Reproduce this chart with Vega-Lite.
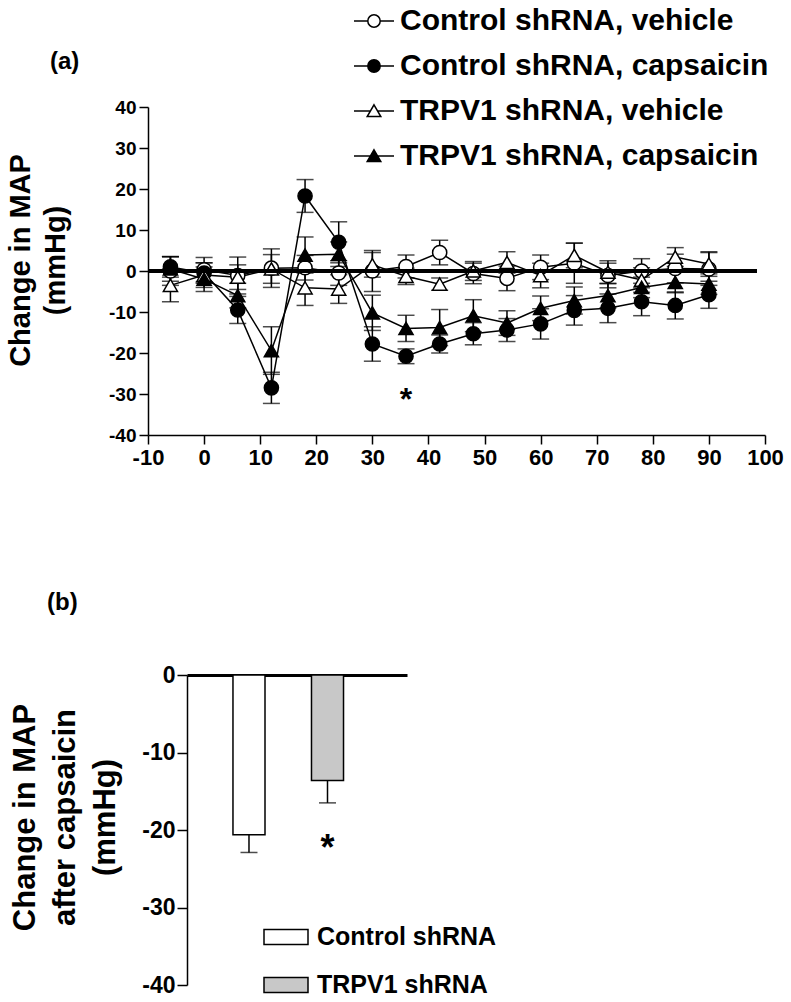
{
  "$schema": "https://vega.github.io/schema/vega-lite/v6.json",
  "background": "white",
  "padding": {"left": 6, "top": 6, "right": 5, "bottom": 5},
  "spacing": 123,
  "resolve": {"scale": {"fill": "independent", "shape": "independent", "stroke": "independent"}, "legend": {"fill": "independent", "shape": "independent", "stroke": "independent"}},
  "config": {
    "font": "Liberation Sans",
    "view": {"stroke": null},
    "axis": {
      "labelFont": "Liberation Sans", "labelFontWeight": "bold", "labelColor": "black",
      "titleFont": "Liberation Sans", "titleFontWeight": "bold", "titleColor": "black",
      "domainColor": "black", "tickColor": "black", "grid": false,
      "domainWidth": 1.5, "tickWidth": 1.5,
      "labelExpr": "replace(datum.label, '−', '-')"
    },
    "title": {"font": "Liberation Sans", "fontWeight": "bold", "color": "black", "fontSize": 24},
    "legend": {"labelFont": "Liberation Sans", "labelFontWeight": "bold", "labelColor": "black", "padding": 0}
  },
  "datasets": {
    "timecourse": [
      {"series": "Control shRNA, vehicle", "t": -6, "mean": 0, "se": 3.5},
      {"series": "Control shRNA, vehicle", "t": 0, "mean": 0.3, "se": 3},
      {"series": "Control shRNA, vehicle", "t": 6, "mean": -1.1, "se": 4.5},
      {"series": "Control shRNA, vehicle", "t": 12, "mean": 0.7, "se": 4.7},
      {"series": "Control shRNA, vehicle", "t": 18, "mean": 0.8, "se": 3},
      {"series": "Control shRNA, vehicle", "t": 24, "mean": -0.5, "se": 3},
      {"series": "Control shRNA, vehicle", "t": 30, "mean": 0, "se": 5},
      {"series": "Control shRNA, vehicle", "t": 36, "mean": 1.1, "se": 2.8},
      {"series": "Control shRNA, vehicle", "t": 42, "mean": 4.5, "se": 3},
      {"series": "Control shRNA, vehicle", "t": 48, "mean": -0.6, "se": 2.5},
      {"series": "Control shRNA, vehicle", "t": 54, "mean": -1.8, "se": 3},
      {"series": "Control shRNA, vehicle", "t": 60, "mean": 0.9, "se": 3},
      {"series": "Control shRNA, vehicle", "t": 66, "mean": 1.9, "se": 4.9},
      {"series": "Control shRNA, vehicle", "t": 72, "mean": -1.1, "se": 3},
      {"series": "Control shRNA, vehicle", "t": 78, "mean": 0, "se": 3},
      {"series": "Control shRNA, vehicle", "t": 84, "mean": 0.6, "se": 3.5},
      {"series": "Control shRNA, vehicle", "t": 90, "mean": 0.5, "se": 4},
      {"series": "Control shRNA, capsaicin", "t": -6, "mean": 1, "se": 2.5},
      {"series": "Control shRNA, capsaicin", "t": 0, "mean": -0.5, "se": 2.5},
      {"series": "Control shRNA, capsaicin", "t": 6, "mean": -9.5, "se": 3.3},
      {"series": "Control shRNA, capsaicin", "t": 12, "mean": -28.5, "se": 3.8},
      {"series": "Control shRNA, capsaicin", "t": 18, "mean": 18.3, "se": 4},
      {"series": "Control shRNA, capsaicin", "t": 24, "mean": 7, "se": 5},
      {"series": "Control shRNA, capsaicin", "t": 30, "mean": -17.8, "se": 4.2},
      {"series": "Control shRNA, capsaicin", "t": 36, "mean": -20.8, "se": 1.8},
      {"series": "Control shRNA, capsaicin", "t": 42, "mean": -17.8, "se": 2.2},
      {"series": "Control shRNA, capsaicin", "t": 48, "mean": -15.3, "se": 2.7},
      {"series": "Control shRNA, capsaicin", "t": 54, "mean": -14.4, "se": 2.8},
      {"series": "Control shRNA, capsaicin", "t": 60, "mean": -12.9, "se": 3.7},
      {"series": "Control shRNA, capsaicin", "t": 66, "mean": -9.6, "se": 3.6},
      {"series": "Control shRNA, capsaicin", "t": 72, "mean": -9.1, "se": 3.5},
      {"series": "Control shRNA, capsaicin", "t": 78, "mean": -7.5, "se": 3.4},
      {"series": "Control shRNA, capsaicin", "t": 84, "mean": -8.4, "se": 3.3},
      {"series": "Control shRNA, capsaicin", "t": 90, "mean": -5.8, "se": 3.3},
      {"series": "TRPV1 shRNA, vehicle", "t": -6, "mean": -3.5, "se": 4},
      {"series": "TRPV1 shRNA, vehicle", "t": 0, "mean": -1, "se": 3},
      {"series": "TRPV1 shRNA, vehicle", "t": 6, "mean": -1.5, "se": 3},
      {"series": "TRPV1 shRNA, vehicle", "t": 12, "mean": 0.5, "se": 3.5},
      {"series": "TRPV1 shRNA, vehicle", "t": 18, "mean": -4.1, "se": 4.3},
      {"series": "TRPV1 shRNA, vehicle", "t": 24, "mean": -4.4, "se": 3.5},
      {"series": "TRPV1 shRNA, vehicle", "t": 30, "mean": 1.5, "se": 3},
      {"series": "TRPV1 shRNA, vehicle", "t": 36, "mean": -1.3, "se": 2},
      {"series": "TRPV1 shRNA, vehicle", "t": 42, "mean": -3.2, "se": 1.5},
      {"series": "TRPV1 shRNA, vehicle", "t": 48, "mean": 0, "se": 2.3},
      {"series": "TRPV1 shRNA, vehicle", "t": 54, "mean": 2.1, "se": 2.6},
      {"series": "TRPV1 shRNA, vehicle", "t": 60, "mean": -1.1, "se": 3},
      {"series": "TRPV1 shRNA, vehicle", "t": 66, "mean": 3.8, "se": 3},
      {"series": "TRPV1 shRNA, vehicle", "t": 72, "mean": -0.3, "se": 2.8},
      {"series": "TRPV1 shRNA, vehicle", "t": 78, "mean": -2.2, "se": 3},
      {"series": "TRPV1 shRNA, vehicle", "t": 84, "mean": 3.4, "se": 2.3},
      {"series": "TRPV1 shRNA, vehicle", "t": 90, "mean": 1.7, "se": 3},
      {"series": "TRPV1 shRNA, capsaicin", "t": -6, "mean": 0.5, "se": 3},
      {"series": "TRPV1 shRNA, capsaicin", "t": 0, "mean": -2, "se": 3},
      {"series": "TRPV1 shRNA, capsaicin", "t": 6, "mean": -6, "se": 3},
      {"series": "TRPV1 shRNA, capsaicin", "t": 12, "mean": -19.4, "se": 5.8},
      {"series": "TRPV1 shRNA, capsaicin", "t": 18, "mean": 3.9, "se": 4.4},
      {"series": "TRPV1 shRNA, capsaicin", "t": 24, "mean": 4.1, "se": 3},
      {"series": "TRPV1 shRNA, capsaicin", "t": 30, "mean": -10.2, "se": 4.3},
      {"series": "TRPV1 shRNA, capsaicin", "t": 36, "mean": -14, "se": 3.2},
      {"series": "TRPV1 shRNA, capsaicin", "t": 42, "mean": -13.8, "se": 4.4},
      {"series": "TRPV1 shRNA, capsaicin", "t": 48, "mean": -10.9, "se": 3.9},
      {"series": "TRPV1 shRNA, capsaicin", "t": 54, "mean": -12.7, "se": 3},
      {"series": "TRPV1 shRNA, capsaicin", "t": 60, "mean": -9.1, "se": 3},
      {"series": "TRPV1 shRNA, capsaicin", "t": 66, "mean": -7.2, "se": 3.3},
      {"series": "TRPV1 shRNA, capsaicin", "t": 72, "mean": -6, "se": 3},
      {"series": "TRPV1 shRNA, capsaicin", "t": 78, "mean": -4, "se": 2.5},
      {"series": "TRPV1 shRNA, capsaicin", "t": 84, "mean": -2.8, "se": 2.5},
      {"series": "TRPV1 shRNA, capsaicin", "t": 90, "mean": -3.2, "se": 2.5}
    ],
    "bars": [
      {"group": "Control shRNA", "mean": -20.6, "lower": -22.9},
      {"group": "TRPV1 shRNA", "mean": -13.6, "lower": -16.5}
    ],
    "starA": [{"t": 36, "mean": -31.4, "label": "*"}],
    "starB": [{"group": "TRPV1 shRNA", "mean": -22.5, "label": "*"}]
  },
  "vconcat": [
    {
      "width": 578,
      "height": 328,
      "title": {"text": "(a)", "anchor": "start", "frame": "group", "dx": -137, "dy": 79, "offset": 11},
      "data": {"name": "timecourse"},
      "encoding": {
        "x": {"field": "t", "type": "quantitative",
              "scale": {"domain": [-10, 100], "range": [-39, 578], "nice": false, "zero": false},
              "axis": {"values": [-10, 0, 10, 20, 30, 40, 50, 60, 70, 80, 90, 100], "title": null,
                       "labelFontSize": 22, "tickSize": 9, "labelPadding": 3, "labelFlush": false}},
        "y": {"field": "mean", "type": "quantitative",
              "scale": {"domain": [-40, 40], "nice": false},
              "axis": {"values": [-40, -30, -20, -10, 0, 10, 20, 30, 40], "offset": 39,
                       "title": ["Change in MAP", "(mmHg)"], "titleFontSize": 29, "titleLineHeight": 35,
                       "titleY": 153, "titlePadding": 38,
                       "labelFontSize": 19, "tickSize": 9, "labelPadding": 3}}
      },
      "layer": [
        {
          "mark": {"type": "errorbar", "color": "black", "thickness": 1.5, "ticks": {"size": 17, "thickness": 1.5, "color": "black"}},
          "encoding": {"yError": {"field": "se"}, "detail": {"field": "series"}}
        },
        {
          "mark": {"type": "line", "color": "black", "strokeWidth": 1.5},
          "encoding": {"detail": {"field": "series"}}
        },
        {
          "mark": {"type": "point", "filled": true, "opacity": 1, "stroke": "black", "strokeWidth": 1.5, "size": 200},
          "encoding": {
            "shape": {"condition": {"test": "indexof(datum.series, 'Control') >= 0", "value": "circle"}, "value": "triangle-up"},
            "fill": {"condition": {"test": "indexof(datum.series, 'vehicle') >= 0", "value": "white"}, "value": "black"}
          }
        },
        {
          "transform": [{"filter": "datum.t > 1000"}],
          "mark": {"type": "point", "filled": true, "opacity": 1, "strokeWidth": 1.5, "size": 400},
          "encoding": {
            "shape": {"field": "series", "type": "nominal",
                      "scale": {"domain": ["Control shRNA, vehicle", "Control shRNA, capsaicin", "TRPV1 shRNA, vehicle", "TRPV1 shRNA, capsaicin"],
                                "range": ["M-2,0H-0.62M0.62,0H2M0.62,0A0.62,0.62,0,1,1,-0.62,0A0.62,0.62,0,1,1,0.62,0Z",
                                          "M-2,0H-0.62M0.62,0H2M0.62,0A0.62,0.62,0,1,1,-0.62,0A0.62,0.62,0,1,1,0.62,0Z",
                                          "M-2,0H-0.36M0.36,0H2M0,-0.62L0.68,0.55L-0.68,0.55Z",
                                          "M-2,0H-0.36M0.36,0H2M0,-0.62L0.68,0.55L-0.68,0.55Z"]},
                      "legend": {"orient": "none", "legendX": 172, "legendY": -101, "title": null,
                                 "labelFontSize": 30, "labelOffset": 11, "rowPadding": 15, "labelLimit": 600,
                                 "symbolSize": 400, "symbolStrokeWidth": 1.5}},
            "fill": {"field": "series", "type": "nominal",
                     "scale": {"domain": ["Control shRNA, vehicle", "Control shRNA, capsaicin", "TRPV1 shRNA, vehicle", "TRPV1 shRNA, capsaicin"],
                               "range": ["white", "black", "white", "black"]},
                     "legend": {"orient": "none", "legendX": 172, "legendY": -101, "title": null,
                                "labelFontSize": 30, "labelOffset": 11, "rowPadding": 15, "labelLimit": 600,
                                "symbolSize": 400, "symbolStrokeWidth": 1.5}},
            "stroke": {"field": "series", "type": "nominal",
                       "scale": {"domain": ["Control shRNA, vehicle", "Control shRNA, capsaicin", "TRPV1 shRNA, vehicle", "TRPV1 shRNA, capsaicin"],
                                 "range": ["black", "black", "black", "black"]},
                       "legend": {"orient": "none", "legendX": 172, "legendY": -101, "title": null,
                                  "labelFontSize": 30, "labelOffset": 11, "rowPadding": 15, "labelLimit": 600,
                                  "symbolSize": 400, "symbolStrokeWidth": 1.5}}
          }
        },
        {
          "mark": {"type": "rule", "color": "black", "strokeWidth": 3},
          "encoding": {"y": {"datum": 0}, "x": {"datum": -10}, "x2": {"datum": 98.5}}
        },
        {
          "data": {"name": "starA"},
          "mark": {"type": "text", "fontSize": 32, "fontWeight": "bold", "baseline": "middle", "color": "black"},
          "encoding": {"text": {"field": "label"}}
        }
      ]
    },
    {
      "width": 220,
      "height": 310,
      "title": {"text": "(b)", "anchor": "start", "frame": "group", "dx": -140, "offset": 49},
      "data": {"name": "bars"},
      "encoding": {
        "x": {"field": "group", "type": "nominal",
              "scale": {"domain": ["Control shRNA", "TRPV1 shRNA"], "paddingInner": 0.592, "paddingOuter": 0.697, "align": 0.42},
              "axis": {"orient": "top", "domain": true, "domainWidth": 3, "ticks": false, "labels": false, "title": null}},
        "y": {"field": "mean", "type": "quantitative",
              "scale": {"domain": [-40, 0], "nice": false},
              "axis": {"values": [-40, -30, -20, -10, 0],
                       "title": ["Change in MAP", "after capsaicin", "(mmHg)"], "titleFontSize": 31, "titleLineHeight": 40,
                       "titleY": 142, "titlePadding": 20,
                       "labelFontSize": 23, "tickSize": 10, "labelPadding": 2}}
      },
      "layer": [
        {
          "mark": {"type": "rule", "color": "black", "strokeWidth": 1.5},
          "encoding": {"y2": {"field": "lower"}}
        },
        {
          "mark": {"type": "tick", "color": "black", "orient": "horizontal", "size": 17, "thickness": 1.5},
          "encoding": {"y": {"field": "lower", "type": "quantitative"}}
        },
        {
          "mark": {"type": "bar", "stroke": "black", "strokeWidth": 1.5, "opacity": 1},
          "encoding": {
            "fill": {"field": "group", "type": "nominal",
                     "scale": {"domain": ["Control shRNA", "TRPV1 shRNA"], "range": ["white", "#c8c8c8"]},
                     "legend": {"orient": "none", "legendX": 76, "legendY": 239, "title": null,
                                "labelFontSize": 25, "labelOffset": 8, "rowPadding": 12, "labelLimit": 400,
                                "symbolType": "M-1,-0.34H1V0.34H-1Z", "symbolSize": 1936,
                                "symbolStrokeColor": "black", "symbolStrokeWidth": 1.5}}
          }
        },
        {
          "data": {"name": "starB"},
          "mark": {"type": "text", "fontSize": 36, "fontWeight": "bold", "baseline": "middle", "color": "black"},
          "encoding": {"text": {"field": "label"}}
        }
      ]
    }
  ]
}
